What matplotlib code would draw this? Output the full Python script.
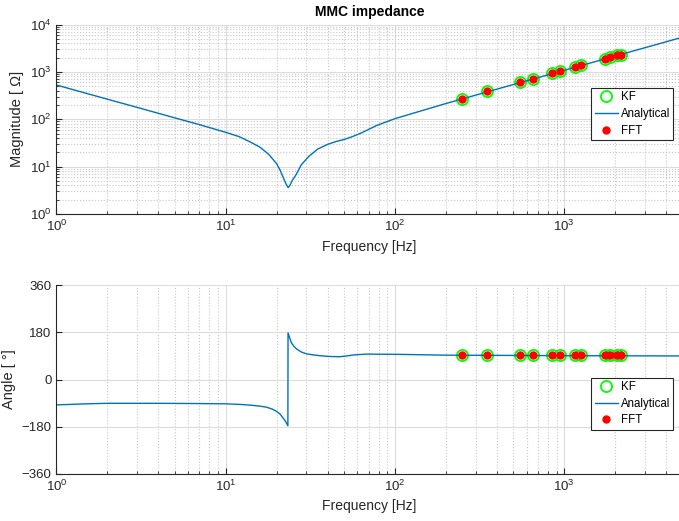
import numpy as np
import matplotlib.pyplot as plt
from matplotlib.ticker import LogLocator, NullFormatter, FixedLocator

plt.rcParams['font.family'] = ['Liberation Sans', 'DejaVu Sans']
plt.rcParams['mathtext.fontset'] = 'custom'
plt.rcParams['mathtext.rm'] = 'Liberation Sans'

# analytical impedance (frequency in Hz)
f_mag = [1, 2, 3, 5, 7, 10, 12, 14, 16, 18, 20, 21, 22, 22.8, 23.4, 24.0,
         24.8, 26, 28, 31, 35, 40, 45, 50, 56, 63, 78, 100, 200, 500, 1000,
         2000, 5000]
z_mag = [528, 265, 178, 107, 77, 53, 43, 33, 25.5, 18, 11.5, 8.3, 5.6, 4.2,
         3.6, 4.1, 5.2, 6.7, 11, 16.5, 23.5, 29.5, 34, 37.3, 43, 51, 74, 103,
         215, 540, 1080, 2160, 5400]

f_ang = [1, 1.5, 2, 4, 7, 10, 12, 14, 16, 17.5, 19, 20, 21, 22, 22.7, 23.3,
         23.35, 24, 24.5, 25.5, 26.3, 28, 30, 33, 36, 41, 47, 52, 57, 68, 107,
         200, 500, 1000, 5000]
z_ang = [-97, -93, -91, -91, -92, -93, -95, -98, -102, -106, -114, -122,
         -133, -150, -163, -177, 178, 155, 139, 124, 116, 105, 98, 94, 91, 88,
         87, 90, 94, 97, 96, 93, 92, 91, 90]

# harmonic estimates
f_h = [250, 350, 550, 650, 850, 950, 1150, 1250, 1750, 1850, 2050, 2150]
kf_mag = [270, 387, 612, 710, 950, 1025, 1250, 1400, 1900, 2040, 2230, 2320]
fft_mag = [270, 387, 612, 710, 950, 1025, 1250, 1400, 1900, 2040, 2230, 2320]
kf_ang = [92, 92, 92, 92, 92, 92, 92, 92, 92, 92, 92, 92]
fft_ang = [92, 92, 92, 92, 92, 92, 92, 92, 92, 92, 92, 92]

blue = '#0072BD'
axcol = '#262626'

fig = plt.figure(figsize=(6.79, 5.21), dpi=100)
W, H = 679, 521
left, width = 56.4 / W, 626.2 / W
ax1 = fig.add_axes([left, (H - 214) / H, width, 189.5 / H])
ax2 = fig.add_axes([left, (H - 473.7) / H, width, 188.4 / H])


def style(ax):
    for s in ['top', 'right']:
        ax.spines[s].set_visible(False)
    for s in ['left', 'bottom']:
        ax.spines[s].set_color(axcol)
        ax.spines[s].set_linewidth(0.8)
    ax.tick_params(which='both', direction='in', colors=axcol, labelsize=9.5)
    ax.tick_params(which='major', length=4)
    ax.tick_params(which='minor', length=2.5)
    ax.set_xscale('log')
    ax.set_xlim(1, 5000)
    ax.xaxis.set_minor_locator(LogLocator(base=10, subs=np.arange(2, 10)))
    ax.xaxis.set_minor_formatter(NullFormatter())
    ax.grid(True, which='major', color='#dcdcdc', linewidth=0.8)
    ax.grid(True, which='minor', axis='x', color='#c8c8c8', linestyle=':',
            linewidth=0.8)
    ax.set_axisbelow(True)
    ax.set_xlabel('Frequency [Hz]', fontsize=10, color=axcol, labelpad=4)


def legend(ax, y1):
    lg = ax.legend(loc='upper left', bbox_to_anchor=(0.854, y1),
                   borderaxespad=0, fontsize=8.3, fancybox=False,
                   edgecolor=axcol, framealpha=1, labelspacing=0.4,
                   handlelength=2.0, handletextpad=0.25, borderpad=0.3)
    lg.get_frame().set_linewidth(0.8)


# magnitude
style(ax1)
ax1.set_yscale('log')
ax1.set_ylim(1, 1e4)
ax1.yaxis.set_minor_locator(LogLocator(base=10, subs=np.arange(2, 10)))
ax1.yaxis.set_minor_formatter(NullFormatter())
ax1.grid(True, which='minor', axis='y', color='#c8c8c8', linestyle=':',
         linewidth=0.8)
ax1.plot(f_h, kf_mag, 'o', ms=8, mfc='none', mec='#00ff00', mew=1.3,
         label='KF')
ax1.plot(f_mag, z_mag, color=blue, lw=1, label='Analytical')
ax1.plot(f_h, fft_mag, 'o', ms=5, color='#ff0000', label='FFT')
ax1.set_ylabel('Magnitude [ Ω]', fontsize=10.5, color=axcol, labelpad=4)
ax1.set_title('MMC impedance', fontsize=10, fontweight='bold', color='k',
              pad=6)
legend(ax1, 0.665)

# angle
style(ax2)
ax2.set_ylim(-360, 360)
ax2.yaxis.set_major_locator(FixedLocator([-360, -180, 0, 180, 360]))
ax2.plot(f_h, kf_ang, 'o', ms=8, mfc='none', mec='#00ff00', mew=1.3,
         label='KF')
ax2.plot(f_ang, z_ang, color=blue, lw=1, label='Analytical')
ax2.plot(f_h, fft_ang, 'o', ms=5, color='#ff0000', label='FFT')
ax2.set_ylabel('Angle [ °]', fontsize=10.5, color=axcol, labelpad=4)
legend(ax2, 0.5096)

fig.savefig('out.png', dpi=100)
